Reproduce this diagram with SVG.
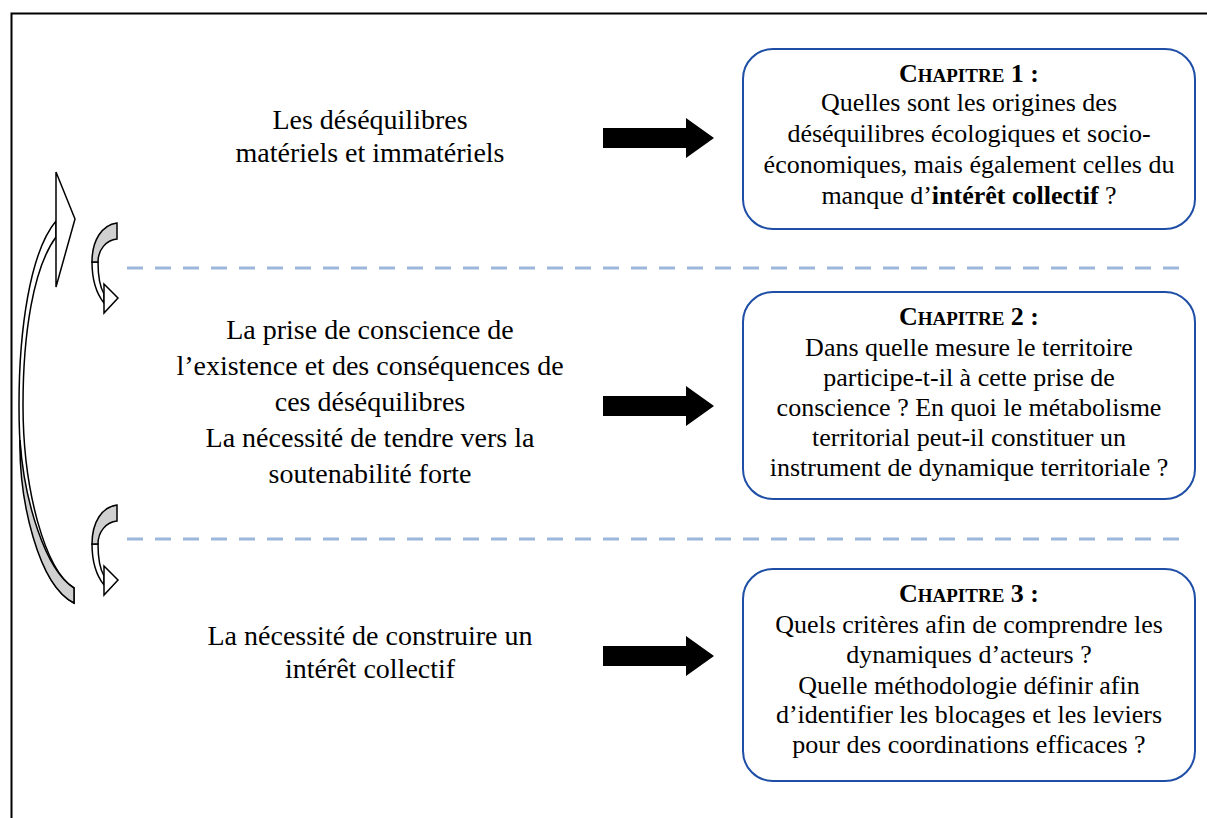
<svg xmlns="http://www.w3.org/2000/svg" width="1207" height="818" viewBox="0 0 1207 818">
<defs>
<style>
text{font-family:'Liberation Serif','DejaVu Serif','Noto Serif',serif;fill:#000;text-anchor:middle}
.lt{font-size:28px}
.bt{font-size:26px}
.hd{font-weight:bold}
.sc{font-size:19px}
.box{fill:#fff;stroke:#1f4ea6;stroke-width:2}
.dash{stroke:#9bb7db;stroke-width:3;stroke-dasharray:16 12;fill:none}
.blk{fill:#000}
.edge{stroke:#000;stroke-width:1.5;stroke-linejoin:miter}
</style>
<polygon id="barrow" points="0,-10 83,-10 83,-20 111,0 83,20 83,10 0,10"/>
</defs>
<rect width="1207" height="818" fill="#fff"/>
<path d="M11.5,818 V13.5 H1207" fill="none" stroke="#000" stroke-width="2"/>

<g id="connectors">
<line class="dash" x1="127" y1="268" x2="1190" y2="268"/>
<line class="dash" x1="127" y1="539" x2="1190" y2="539"/>
<use href="#barrow" class="blk" x="603" y="138"/>
<use href="#barrow" class="blk" x="603" y="406"/>
<use href="#barrow" class="blk" x="603" y="656"/>
</g>

<g id="cycle-arrow">
<path class="edge" fill="#fff" d="M56,221 C30,252 19,330 19,405 C19,500 38,585 74,603 L74,588 C45,570 23,490 23,405 C23,335 33,268 56,237 Z"/>
<path class="edge" fill="#d0d0d0" d="M74,603 C38,585 19,500 20,440 C24,500 45,570 74,588 Z"/>
<polygon class="edge" fill="#fff" points="56,172 75,219 56,287"/>
</g>

<g id="small-arrow-1">
<path class="edge" fill="#fff" d="M92,262 C92,280 96,293 104,303 L104,294 C100,287 98,276 98,262 Z"/>
<path class="edge" fill="#d0d0d0" d="M117,223 L117,239 C106,240 98,250 98,262 L92,262 C92,240 102,225 117,223 Z"/>
<polygon class="edge" fill="#fff" points="104,284 118,298 104,313"/>
</g>
<g id="small-arrow-2" transform="translate(0,282)">
<path class="edge" fill="#fff" d="M92,262 C92,280 96,293 104,303 L104,294 C100,287 98,276 98,262 Z"/>
<path class="edge" fill="#d0d0d0" d="M117,223 L117,239 C106,240 98,250 98,262 L92,262 C92,240 102,225 117,223 Z"/>
<polygon class="edge" fill="#fff" points="104,284 118,298 104,313"/>
</g>

<g id="left-1">
<text class="lt" x="370" y="129">Les déséquilibres</text>
<text class="lt" x="370" y="162">matériels et immatériels</text>
</g>
<g id="left-2">
<text class="lt" x="370" y="339">La prise de conscience de</text>
<text class="lt" x="370" y="375">l’existence et des conséquences de</text>
<text class="lt" x="370" y="411">ces déséquilibres</text>
<text class="lt" x="370" y="447">La nécessité de tendre vers la</text>
<text class="lt" x="370" y="483">soutenabilité forte</text>
</g>
<g id="left-3">
<text class="lt" x="370" y="645">La nécessité de construire un</text>
<text class="lt" x="370" y="678">intérêt collectif</text>
</g>

<g id="chapitre-1">
<rect class="box" x="743" y="49" width="452" height="180" rx="30"/>
<text class="bt hd" x="969" y="82">C<tspan class="sc">HAPITRE</tspan> 1 :</text>
<text class="bt" x="969" y="111">Quelles sont les origines des</text>
<text class="bt" x="969" y="142">déséquilibres écologiques et socio-</text>
<text class="bt" x="969" y="173">économiques, mais également celles du</text>
<text class="bt" x="969" y="204">manque d’<tspan class="hd">intérêt collectif</tspan> ?</text>
</g>
<g id="chapitre-2">
<rect class="box" x="743" y="292" width="452" height="207" rx="30"/>
<text class="bt hd" x="969" y="325">C<tspan class="sc">HAPITRE</tspan> 2 :</text>
<text class="bt" x="969" y="356">Dans quelle mesure le territoire</text>
<text class="bt" x="969" y="386">participe-t-il à cette prise de</text>
<text class="bt" x="969" y="416">conscience ? En quoi le métabolisme</text>
<text class="bt" x="969" y="446">territorial peut-il constituer un</text>
<text class="bt" x="969" y="476">instrument de dynamique territoriale ?</text>
</g>
<g id="chapitre-3">
<rect class="box" x="743" y="569" width="452" height="212" rx="30"/>
<text class="bt hd" x="969" y="602">C<tspan class="sc">HAPITRE</tspan> 3 :</text>
<text class="bt" x="969" y="633">Quels critères afin de comprendre les</text>
<text class="bt" x="969" y="663">dynamiques d’acteurs ?</text>
<text class="bt" x="969" y="694">Quelle méthodologie définir afin</text>
<text class="bt" x="969" y="723">d’identifier les blocages et les leviers</text>
<text class="bt" x="969" y="753">pour des coordinations efficaces ?</text>
</g>
</svg>
